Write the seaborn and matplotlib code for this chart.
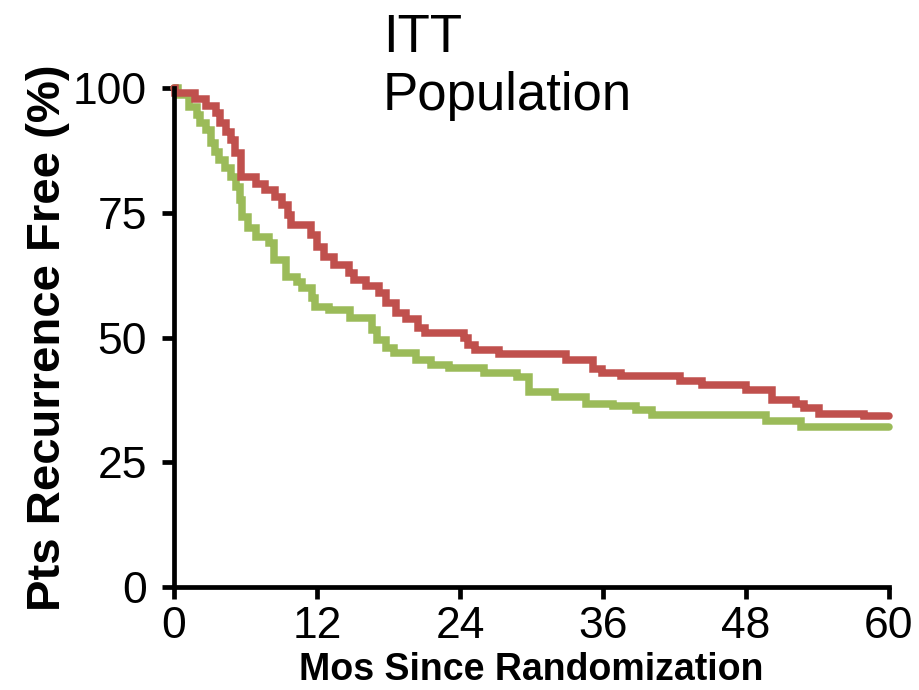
import matplotlib
matplotlib.use("Agg")
import matplotlib.pyplot as plt
import seaborn as sns
import pandas as pd

# Kaplan-Meier step estimates (months, % recurrence free), step changes at each time
red_months = [0, 0.1, 1.8, 2.7, 3.5, 3.9, 4.4, 4.8, 5.1, 5.6, 6.9, 7.6, 8.5, 9.1,
              9.6, 9.8, 11.5, 12.0, 12.6, 13.4, 14.7, 15.1, 16.1, 17.2, 17.8, 18.6,
              19.5, 20.5, 21.1, 24.3, 24.7, 25.3, 27.3, 32.9, 35.2, 35.9, 37.5, 42.5,
              44.3, 48.0, 50.2, 52.2, 52.9, 54.1, 57.9, 60.0]
red_pct = [100, 99.0, 97.7, 96.3, 95.0, 93.0, 91.2, 89.6, 87.0, 82.2, 80.8, 79.6, 78.2, 76.5,
           74.5, 72.5, 70.5, 68.2, 66.2, 64.5, 62.9, 61.5, 60.3, 58.9, 56.9, 54.9,
           53.7, 51.9, 50.9, 49.9, 48.5, 47.5, 46.7, 45.5, 43.7, 42.9, 42.3, 41.3,
           40.5, 39.5, 37.5, 36.7, 35.9, 34.7, 34.3, 34.3]

green_months = [0, 0.3, 1.3, 1.9, 2.2, 2.7, 3.1, 3.4, 3.8, 4.3, 4.8, 5.2, 5.5, 5.7,
                6.2, 6.9, 8.0, 8.4, 9.4, 10.3, 10.7, 11.6, 11.8, 13.0, 14.8, 16.6,
                17.0, 17.8, 18.5, 20.3, 21.6, 23.1, 26.0, 28.8, 29.8, 32.0, 34.6,
                36.8, 38.8, 40.1, 49.7, 52.6, 60.0]
green_pct = [100, 98.6, 96.2, 94.6, 93.0, 91.6, 89.0, 87.2, 85.6, 84.0, 82.2, 80.2, 77.6, 74.1,
             71.9, 70.1, 68.9, 65.5, 62.1, 61.1, 59.9, 58.0, 56.1, 55.5, 53.9, 51.5,
             49.5, 47.9, 46.9, 45.5, 44.5, 43.9, 42.9, 42.1, 39.1, 38.1, 36.7,
             36.3, 35.5, 34.5, 33.3, 32.1, 32.1]

x_ticks = [0, 12, 24, 36, 48, 60]
y_ticks = [0, 25, 50, 75, 100]

df = pd.concat([
    pd.DataFrame({"months": green_months, "pct": green_pct, "arm": "green"}),
    pd.DataFrame({"months": red_months, "pct": red_pct, "arm": "red"}),
], ignore_index=True)

sns.set_style("white")
plt.rcParams["font.family"] = ["Liberation Sans", "DejaVu Sans"]
plt.rcParams["text.color"] = "black"
plt.rcParams["axes.labelcolor"] = "black"

fig = plt.figure(figsize=(9.2, 6.9), dpi=100)
ax = fig.add_axes([174 / 920, 103 / 690, 715 / 920, 499 / 690])

sns.lineplot(data=df, x="months", y="pct", hue="arm",
             palette={"green": "#9BBB59", "red": "#C0504D"},
             drawstyle="steps-post", estimator=None, sort=False,
             linewidth=5.4, legend=False, ax=ax, clip_on=False,
             solid_joinstyle="miter")

ax.set_xlim(0, 60)
ax.set_ylim(0, 100)
ax.set_xticks(x_ticks)
ax.set_yticks(y_ticks)
ax.set_xticklabels([str(v) for v in x_ticks])
ax.set_yticklabels([str(v) for v in y_ticks])

for side in ("top", "right"):
    ax.spines[side].set_visible(False)
for side in ("left", "bottom"):
    ax.spines[side].set_linewidth(3.4)
    ax.spines[side].set_color("black")

ax.tick_params(axis="both", direction="out", length=8.5, width=3.4,
               colors="black", labelsize=32, bottom=True, left=True)
ax.tick_params(axis="x", pad=5)
ax.tick_params(axis="y", pad=11)

ax.set_xlabel("Mos Since Randomization", fontsize=27, fontweight="bold", labelpad=4)
ax.set_ylabel("Pts Recurrence Free (%)", fontsize=34, fontweight="bold", labelpad=2)

fig.text(383 / 920, (690 - 52) / 690, "ITT", fontsize=38, ha="left", va="baseline")
fig.text(383 / 920, (690 - 110) / 690, "Population", fontsize=38, ha="left", va="baseline")

fig.savefig("out.png", dpi=100)
